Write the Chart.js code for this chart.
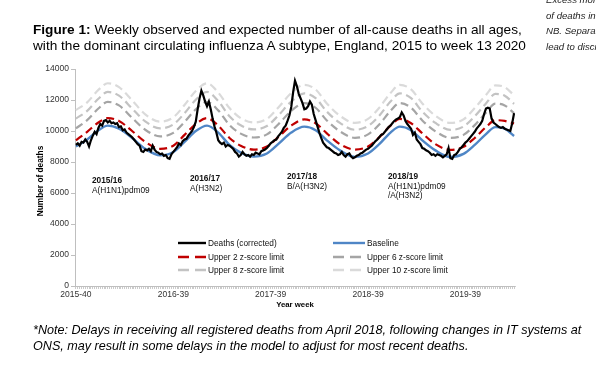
<!DOCTYPE html>
<html><head><meta charset="utf-8">
<script src="https://cdn.jsdelivr.net/npm/chart.js@4/dist/chart.umd.min.js"></script>
<style>
html,body{margin:0;padding:0;background:#fff;}
#wrap{position:relative;width:596px;height:365px;overflow:hidden;font-family:"Liberation Sans",Arial,sans-serif;color:#000;}
#c{position:absolute;left:0;top:0;}
.t{position:absolute;white-space:nowrap;}
.ann{position:absolute;white-space:nowrap;font-size:8.3px;line-height:9.6px;color:#111;}
.lg{position:absolute;white-space:nowrap;font-size:8.3px;color:#111;display:flex;align-items:center;}
</style></head><body>
<div id="wrap">
<canvas id="c" width="596" height="365"></canvas>
<div class="t" style="left:33px;top:22px;font-size:13.65px;line-height:15.5px;"><b>Figure 1:</b> Weekly observed and expected number of all-cause deaths in all ages,<br>with the dominant circulating influenza A subtype, England, 2015 to week 13 2020</div>
<div class="t" style="left:546px;top:-8px;font-size:9.6px;line-height:15.5px;font-style:italic;color:#222;">Excess mortality is defined as<br>of deaths in excess of<br>NB. Separate models may<br>lead to discrepancies</div>
<div class="t" style="left:33px;top:323px;font-size:12.6px;line-height:15.5px;font-style:italic;">*Note: Delays in receiving all registered deaths from April 2018, following changes in IT systems at<br>ONS, may result in some delays in the model to adjust for most recent deaths.</div>
<div class="t" style="left:34px;top:181px;font-size:8.3px;font-weight:bold;transform:translate(-50%,-50%) rotate(-90deg);transform-origin:center;left:40px;">Number of deaths</div>
<div class="t" style="left:295px;top:304px;font-size:7.8px;font-weight:bold;transform:translate(-50%,-50%);">Year week</div>
<div class="ann" style="left:92px;top:176px;"><b>2015/16</b><br>A(H1N1)pdm09</div>
<div class="ann" style="left:190px;top:174px;"><b>2016/17</b><br>A(H3N2)</div>
<div class="ann" style="left:287px;top:172px;"><b>2017/18</b><br>B/A(H3N2)</div>
<div class="ann" style="left:388px;top:172px;"><b>2018/19</b><br>A(H1N1)pdm09<br>/A(H3N2)</div>
<div id="legend"></div>
</div>
<script>
// ---- categories ----
const startYear = 2015, startWeek = 40, endYear = 2020, endWeek = 13;
const weeksPerYear = {2015:53, 2016:52, 2017:52, 2018:52, 2019:52, 2020:52};
const weeks = [];
for (let y = startYear; y <= endYear; y++) {
  const w0 = (y === startYear) ? startWeek : 1;
  const w1 = (y === endYear) ? endWeek : weeksPerYear[y];
  for (let w = w0; w <= w1; w++) weeks.push(y + '-' + String(w).padStart(2, '0'));
}
const tickLabels = ['2015-40', '2016-39', '2017-39', '2018-39', '2019-39'];

// ---- observed deaths, one per week ----
const deaths = [
  9100, 9200, 9050, 9300, 9250, 9450, 9300, 9000, 9400, 9700,
  9950, 9800, 10200, 10450, 10350, 10650, 10700, 10550, 10650, 10500,
  10550, 10450, 10500, 10250, 10300, 10050, 10100, 9900, 9800, 9700,
  9600, 9450, 9300, 9150, 9050, 8700, 8650, 8800, 8750, 8850,
  8700, 9050, 8800, 8650, 8600, 8500, 8550, 8400, 8450, 8250,
  8200, 8500,
  8650, 8800, 8950, 9200, 9100, 9350, 9450, 9500, 9700, 9850,
  10000, 10250, 10600, 11400, 12100, 12600, 12300, 11900, 11600, 11900,
  11400, 10800, 10300, 9900, 9400, 9250, 9150, 9250, 9000, 9100,
  9050, 8950, 8850, 8650, 8550, 8350, 8450, 8650, 8500, 8400,
  8450, 8350, 8500, 8450, 8600, 8550, 8500, 8700, 8750, 8800,
  8900, 9050,
  9200, 9300, 9400, 9450, 9650, 9800, 9950, 10200, 10350, 10650,
  11000, 11550, 12500, 13250, 12900, 12400, 12100, 11800, 11400, 11450,
  11600, 11900, 11700, 11100, 10700, 10300, 9900, 9550, 9250, 9100,
  8950, 8900, 8800, 8700, 8600, 8550, 8450, 8500, 8650, 8450,
  8350, 8500, 8550, 8350, 8250, 8300, 8400, 8450, 8550, 8600,
  8700, 8800,
  8850, 8950, 9050, 9200, 9350, 9450, 9600, 9750, 9800, 9950,
  10100, 10250, 10350, 10500, 10650, 10750, 10800, 10900, 11200, 11000,
  10650, 10450, 10300, 10150, 9750, 9900, 9450, 9300, 9150, 8900,
  8850, 8750, 8700, 8600, 8450, 8500, 8400, 8500, 8450, 8400,
  8300, 8400, 8500, 8900, 8250, 8200, 8450, 8500, 8650, 8850,
  8950, 9100,
  9250, 9350, 9500, 9650, 9800, 9950, 10150, 10300, 10450, 10650,
  11100, 11450, 11500, 11450, 10800, 10550, 10450, 10350, 10250, 10200,
  10250, 10150, 10100, 10050, 10000, 10500, 11150
];

// ---- smooth model lines, read at these weeks ----
const knotWeeks = ['2015-40','2015-46','2015-52','2016-04','2016-10','2016-17','2016-24','2016-32','2016-39','2016-45',
  '2016-51','2017-05','2017-11','2017-17','2017-23','2017-30','2017-37','2017-43','2017-50','2018-05',
  '2018-11','2018-17','2018-24','2018-32','2018-39','2018-45','2018-51','2019-04','2019-10','2019-16',
  '2019-23','2019-31','2019-38','2019-44','2019-50','2020-03','2020-08','2020-13'];
const baseline = [9000,9450,10050,10350,10150,9550,8850,8430,8650,9300,
  10000,10350,9900,9100,8600,8350,8550,9150,9900,10280,
  10050,9400,8750,8330,8550,9150,9900,10280,10050,9400,
  8750,8320,8520,9100,9800,10250,10150,9680];
const upper2 = [9400,9950,10550,10830,10650,10000,9300,8850,9050,9750,
  10450,10830,10350,9550,9050,8800,9000,9600,10350,10750,
  10500,9850,9150,8800,9000,9600,10350,10780,10500,9850,
  9150,8780,8980,9550,10250,10700,10650,10480];
const upper6 = [10170,10700,11450,11880,11650,10850,10080,9650,9880,10580,
  11400,11880,11330,10380,9830,9580,9780,10420,11300,11800,
  11500,10680,9980,9560,9780,10420,11300,11800,11500,10680,
  9980,9550,9750,10380,11180,11760,11650,11150];
const upper8 = [10800,11300,12080,12520,12280,11450,10620,10170,10420,11150,
  12020,12520,11930,10950,10370,10100,10320,10990,11900,12430,
  12120,11250,10520,10080,10320,10990,11900,12430,12120,11250,
  10520,10070,10290,10950,11780,12390,12280,11750];
const upper10 = [11350,11850,12650,13080,12830,11980,11080,10600,10880,11680,
  12580,13080,12480,11480,10830,10550,10780,11500,12450,12980,
  12680,11780,10980,10530,10780,11500,12450,12980,12680,11780,
  10980,10520,10750,11480,12330,12940,12830,12300];

const knots = arr => knotWeeks.map((w, k) => ({x: weeks.indexOf(w), y: arr[k]}));
const smooth = {cubicInterpolationMode: 'monotone', spanGaps: true, pointRadius: 0, fill: false};

Chart.defaults.font.family = '"Liberation Sans", Arial, sans-serif';

const datasets = [
  {label: 'Deaths (corrected)', data: deaths.map((v, i) => ({x: i, y: v})), borderColor: '#000000', borderWidth: 2.2, tension: 0, pointRadius: 0},
  Object.assign({label: 'Baseline', data: knots(baseline), borderColor: '#4f86c6', borderWidth: 2.4}, smooth),
  Object.assign({label: 'Upper 2 z-score limit', data: knots(upper2), borderColor: '#c00000', borderWidth: 2.2, borderDash: [8, 4.5]}, smooth),
  Object.assign({label: 'Upper 6 z-score limit', data: knots(upper6), borderColor: '#a5a5a5', borderWidth: 2.2, borderDash: [8, 4.5]}, smooth),
  Object.assign({label: 'Upper 8 z-score limit', data: knots(upper8), borderColor: '#c3c3c3', borderWidth: 2.2, borderDash: [8, 4.5]}, smooth),
  Object.assign({label: 'Upper 10 z-score limit', data: knots(upper10), borderColor: '#dadada', borderWidth: 2.2, borderDash: [8, 4.5]}, smooth)
];

const chart = new Chart(document.getElementById('c'), {
  type: 'line',
  data: {datasets},
  options: {
    responsive: false, animation: false, events: [],
    layout: {padding: {left: 0, top: 69, right: 81, bottom: 59}},
    plugins: {legend: {display: false}, tooltip: {enabled: false}},
    scales: {
      x: {
        type: 'linear', min: -0.5, max: weeks.length - 0.5,
        afterBuildTicks: s => { s.ticks = weeks.map((w, i) => ({value: i})); },
        afterFit: s => { s.height = 20; },
        grid: {drawOnChartArea: false, drawTicks: true, tickLength: 3, color: '#a8a8a8', lineWidth: 0.6},
        border: {color: '#bfbfbf', width: 1},
        ticks: {autoSkip: false, maxRotation: 0, minRotation: 0, padding: 1, font: {size: 8.5}, color: '#333',
          callback: v => tickLabels.includes(weeks[v]) ? weeks[v] : ''}
      },
      y: {
        min: 0, max: 14000,
        afterFit: s => { s.width = 75; },
        ticks: {stepSize: 2000, padding: 2, font: {size: 8.5}, color: '#333', callback: v => String(v)},
        grid: {drawOnChartArea: false, drawTicks: true, tickLength: 4, color: '#bfbfbf'},
        border: {color: '#bfbfbf', width: 1}
      }
    }
  }
});

// ---- legend (HTML, two columns inside the plot) ----
const legendPos = [[178, 243], [333, 243], [178, 257], [333, 257], [178, 270], [333, 270]];
const lg = document.getElementById('legend');
datasets.forEach((ds, k) => {
  const [lx, ly] = legendPos[k];
  const el = document.createElement('div');
  el.className = 'lg';
  el.style.left = lx + 'px';
  el.style.top = (ly - 6) + 'px';
  el.style.height = '12px';
  const sw = (k % 2 === 0) ? 28 : 32;
  const dash = ds.borderDash ? 'stroke-dasharray="11 6"' : '';
  el.innerHTML = '<svg width="' + sw + '" height="6" style="margin-right:2px"><line x1="0" y1="3" x2="' + sw + '" y2="3" stroke="' + ds.borderColor + '" stroke-width="2.4" ' + dash + '/></svg><span>' + ds.label + '</span>';
  lg.appendChild(el);
});
</script>
</body></html>
